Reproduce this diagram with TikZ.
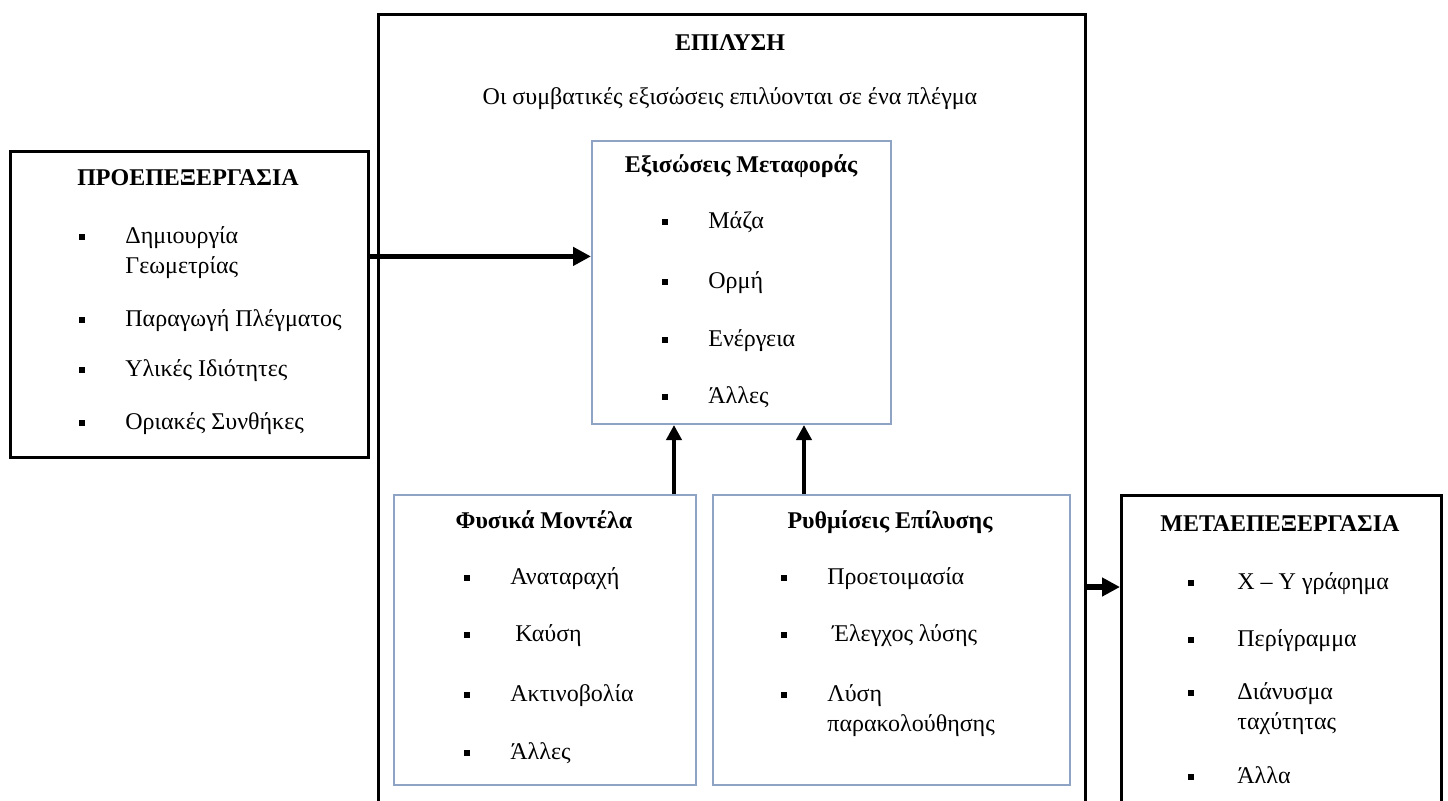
\documentclass[tikz,border=0pt]{standalone}
\usepackage{fontspec}
\setmainfont{Liberation Serif}
\usetikzlibrary{arrows.meta}
\definecolor{boxblue}{RGB}{143,164,196}

\begin{document}
\begin{tikzpicture}[x=0.5pt,y=-0.5pt,
    font=\fontsize{12}{15}\selectfont,
    stage/.style={draw,line width=1.4pt,inner sep=0pt},
    part/.style={draw=boxblue,line width=1pt,inner sep=0pt},
    head/.style={anchor=base,font=\fontsize{12}{15}\selectfont\bfseries},
    bul/.style={fill,inner sep=0pt,minimum size=3.4pt},
    entry/.style={anchor=base west,align=left,inner sep=0pt},
    flow/.style={-{Triangle[length=9pt,width=9pt]},line width=2.6pt},
    feed/.style={-{Triangle[length=7.5pt,width=7.5pt]},line width=2pt}]
  \clip (0,0) rectangle (1448,800);
  % stages
  \node[stage,anchor=north west,minimum width=179pt,minimum height=153pt] (pre) at (9,150) {};
  \node[stage,anchor=north west,minimum width=353.5pt,minimum height=410pt] (solve) at (377,13) {};
  \node[stage,anchor=north west,minimum width=160pt,minimum height=170pt] (post) at (1120,494) {};
  % parts of the solver
  \node[part,anchor=north west,minimum width=149.5pt,minimum height=141.5pt] (transport) at (591,140) {};
  \node[part,anchor=north west,minimum width=151pt,minimum height=145pt] (physics) at (393,494) {};
  \node[part,anchor=north west,minimum width=178.5pt,minimum height=145pt] (settings) at (712,494) {};

  % titles
  \node[head] (pretitle) at (188,185) {ΠΡΟΕΠΕΞΕΡΓΑΣΙΑ};
  \node[head] (solvetitle) at (730,50) {ΕΠΙΛΥΣΗ};
  \node[anchor=base] (solvenote) at (730,104) {Οι συμβατικές εξισώσεις επιλύονται σε ένα πλέγμα};
  \node[head] (transporttitle) at (741,172) {Εξισώσεις Μεταφοράς};
  \node[head] (physicstitle) at (544,528) {Φυσικά Μοντέλα};
  \node[head] (settingstitle) at (890,528) {Ρυθμίσεις Επίλυσης};
  \node[head] (posttitle) at (1280,531) {ΜΕΤΑΕΠΕΞΕΡΓΑΣΙΑ};

  % lists (bullet height / baseline of the last line)
  \foreach \txt/\yy/\bb [count=\i] in {{Δημιουργία\\Γεωμετρίας}/237/273,{Παραγωγή Πλέγματος}/320/326,{Υλικές Ιδιότητες}/370/376,{Οριακές Συνθήκες}/423/429}{
    \node[bul] (preb\i) at (82,\yy) {};
    \node[entry] (pret\i) at (125,\bb) {\txt};
  }
  \foreach \txt/\yy [count=\i] in {Μάζα/222,Ορμή/282,Ενέργεια/340,Άλλες/397}{
    \node[bul] (transb\i) at (665,\yy) {};
    \node[entry] (transt\i) at (708,\yy+6) {\txt};
  }
  \foreach \txt/\yy [count=\i] in {Αναταραχή/578,{\hspace{2.5pt}Καύση}/635,Ακτινοβολία/695,Άλλες/753}{
    \node[bul] (physb\i) at (467,\yy) {};
    \node[entry] (physt\i) at (510,\yy+6) {\txt};
  }
  \foreach \txt/\yy/\bb [count=\i] in {Προετοιμασία/578/584,{\hspace{2.5pt}Έλεγχος λύσης}/635/641,{Λύση\\παρακολούθησης}/695/731}{
    \node[bul] (setb\i) at (784,\yy) {};
    \node[entry] (sett\i) at (827,\bb) {\txt};
  }
  \foreach \txt/\yy/\bb [count=\i] in {{Χ – Υ γράφημα}/583/589,Περίγραμμα/640/646,{Διάνυσμα\\ταχύτητας}/693/729,Άλλα/777/783}{
    \node[bul] (postb\i) at (1191,\yy) {};
    \node[entry] (postt\i) at (1237,\bb) {\txt};
  }

  % connectors
  \coordinate (outlevel) at (1100,587);
  \draw[flow] ([yshift=24pt]pre.east) -- ([yshift=24pt]pre.east -| transport.west);
  \draw[feed] ([xshift=64.5pt]physics.north) -- ([xshift=64.5pt]physics.north |- transport.south);
  \draw[feed] ([xshift=-43.75pt]settings.north) -- ([xshift=-43.75pt]settings.north |- transport.south);
  \draw[flow] (outlevel -| solve.east) -- (outlevel -| post.west);
\end{tikzpicture}
\end{document}
